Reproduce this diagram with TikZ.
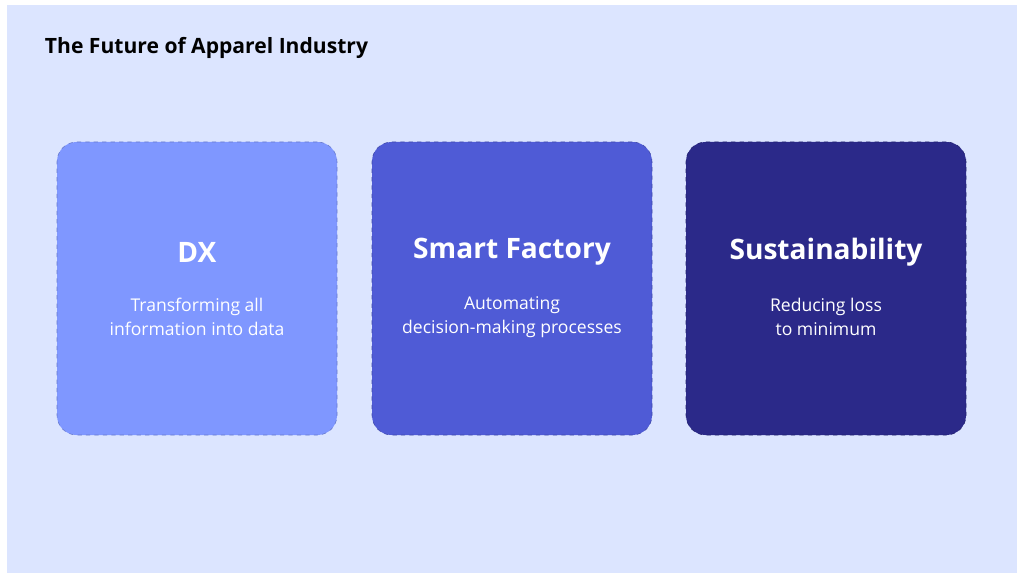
\documentclass[tikz,border=0pt]{standalone}
\usepackage{fontspec}
\setmainfont{Open Sans}
\definecolor{pagebg}{HTML}{DCE5FF}
\definecolor{dxfill}{HTML}{7F97FF}
\definecolor{smartfill}{HTML}{4F5BD6}
\definecolor{susfill}{HTML}{2B2989}
\begin{document}
\begin{tikzpicture}[x=0.025cm,y=-0.025cm,
cardbox/.style={draw=#1!80!black, dashed, rounded corners=14pt, fill=#1, minimum width=280*0.025cm, minimum height=293*0.025cm},
headtext/.style={text=white, font=\fontsize{20}{24}\selectfont\bfseries},
bodytext/.style={text=white, font=\fontsize{12.5}{17}\selectfont, align=center},
]
%Background
\useasboundingbox (0,0) rectangle (1024,582);
\fill[white] (0,0) rectangle (1024,582);
\fill[pagebg] (7,5) rectangle (1017,573);
%Title
\node[anchor=west, font=\fontsize{15}{18}\selectfont\bfseries] (title) at (40,48) {The Future of Apparel Industry};
%Cards
\node[cardbox=dxfill]    (dx)    at (197,288.5) {};
\node[cardbox=smartfill] (smart) at (512,288.5) {};
\node[cardbox=susfill]   (sus)   at (826,288.5) {};
%Texts
\node[headtext] (dxhead)    at (197,252) {DX};
\node[headtext] (smarthead) at (512,252) {Smart Factory};
\node[headtext] (sushead)   at (826,252) {Sustainability};
\node[bodytext] (dxbody)    at (197,317) {Transforming all\\information into data};
\node[bodytext] (smartbody) at (512,317) {Automating\\decision-making processes};
\node[bodytext] (susbody)   at (826,317) {Reducing loss\\to minimum};
\end{tikzpicture}
\end{document}
